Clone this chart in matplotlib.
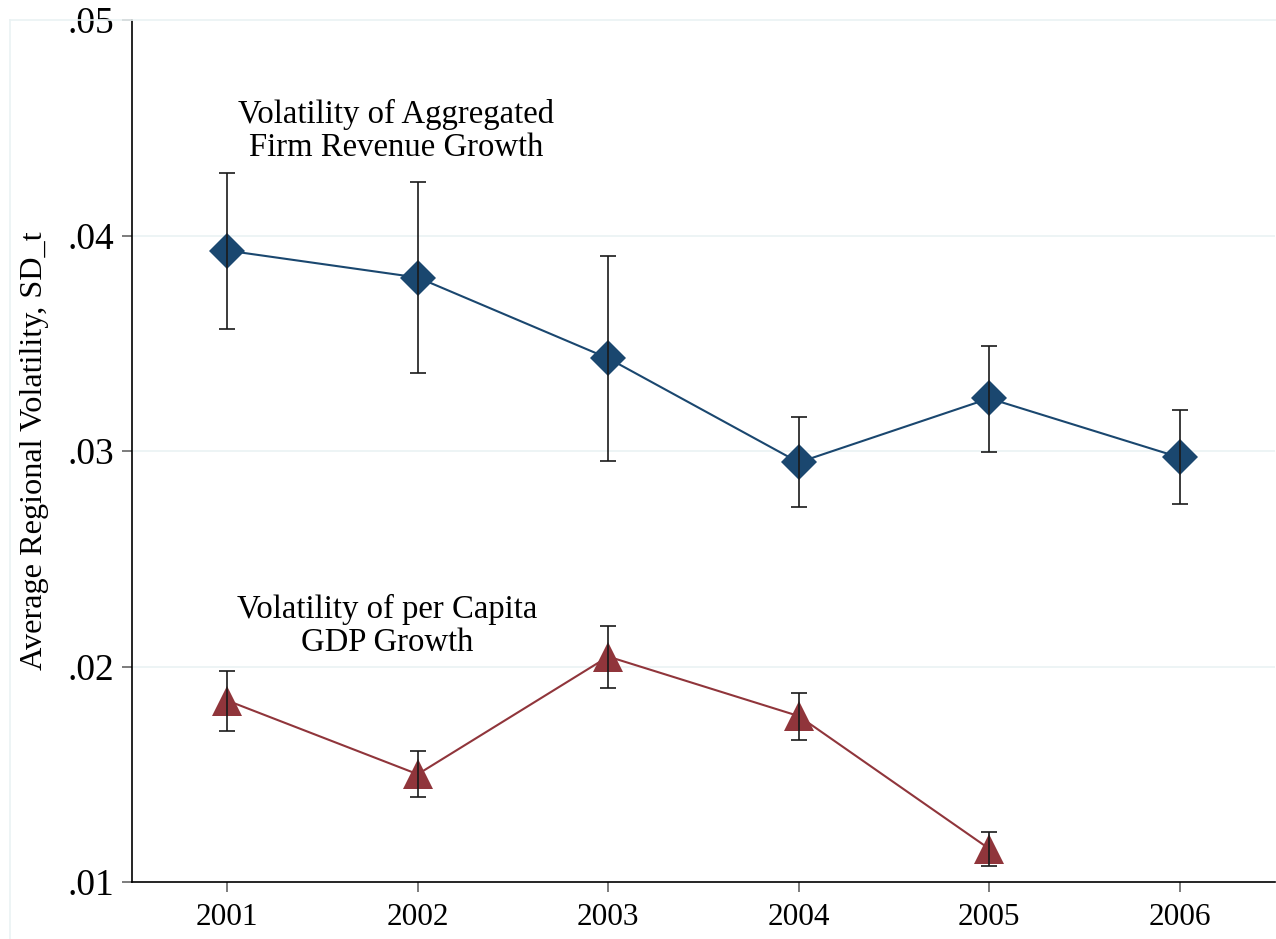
import matplotlib
matplotlib.use("Agg")
import matplotlib.pyplot as plt
from matplotlib.lines import Line2D

plt.rcParams['font.family'] = ['Liberation Serif', 'DejaVu Serif']

years = [2001, 2002, 2003, 2004, 2005, 2006]

firm_vol = [0.03930, 0.03805, 0.03430, 0.02947, 0.03244, 0.02970]
firm_hi  = [0.04291, 0.04246, 0.03904, 0.03156, 0.03486, 0.03189]
firm_lo  = [0.03568, 0.03364, 0.02952, 0.02738, 0.02994, 0.02752]

gdp_years = [2001, 2002, 2003, 2004, 2005]
gdp_vol = [0.01842, 0.01500, 0.02046, 0.01770, 0.01154]
gdp_hi  = [0.01981, 0.01606, 0.02190, 0.01879, 0.01233]
gdp_lo  = [0.01703, 0.01393, 0.01902, 0.01661, 0.01072]

NAVY   = '#1a476f'
MAROON = '#90353b'
GRID   = '#eaf2f3'

fig = plt.figure(figsize=(12.76, 9.39), dpi=100)
fig.patch.set_facecolor('white')
ax = fig.add_axes([132 / 1276, 1 - 882 / 939, 1143 / 1276, 862 / 939])

# faint outer plot-region frame
fig.add_artist(Line2D([10 / 1276, 1.0], [1 - 20 / 939, 1 - 20 / 939],
                      color=GRID, lw=1.2, transform=fig.transFigure))
fig.add_artist(Line2D([10 / 1276, 10 / 1276], [0, 1 - 20 / 939],
                      color=GRID, lw=1.2, transform=fig.transFigure))

for yv in [0.02, 0.03, 0.04]:
    ax.axhline(yv, color=GRID, lw=1.2, zorder=0)

# series lines + markers
ax.plot(years, firm_vol, color=NAVY, lw=1.5, marker='D', ms=18.5,
        markeredgewidth=0, zorder=3)
ax.plot(gdp_years, gdp_vol, color=MAROON, lw=1.5, marker='^', ms=21.5,
        markeredgewidth=0, zorder=3)

# confidence intervals drawn on top of markers
def err(yv, lo, hi):
    return [[v - l for v, l in zip(yv, lo)], [h - v for v, h in zip(yv, hi)]]

ax.errorbar(years, firm_vol, yerr=err(firm_vol, firm_lo, firm_hi), fmt='none',
            ecolor='#1a1a1a', elinewidth=1.2, capsize=5.5, capthick=1.2, zorder=4)
ax.errorbar(gdp_years, gdp_vol, yerr=err(gdp_vol, gdp_lo, gdp_hi), fmt='none',
            ecolor='#1a1a1a', elinewidth=1.2, capsize=5.5, capthick=1.2, zorder=4)

ax.text(2001.886, 0.04485, 'Volatility of Aggregated\nFirm Revenue Growth',
        ha='center', va='center', multialignment='center',
        fontsize=23.6, linespacing=1.1)
ax.text(2001.84, 0.0219, 'Volatility of per Capita\nGDP Growth',
        ha='center', va='center', multialignment='center',
        fontsize=23.6, linespacing=1.1)

ax.set_xlim(2000.5, 2006.5)
ax.set_ylim(0.01, 0.05)
ax.set_xticks(years)
ax.set_xticklabels([str(y) for y in years])
ax.set_yticks([0.01, 0.02, 0.03, 0.04, 0.05])
ax.set_yticklabels(['.01', '.02', '.03', '.04', '.05'])

ax.spines[['top', 'right']].set_visible(False)
ax.spines[['left', 'bottom']].set_linewidth(1.2)
ax.tick_params(axis='x', length=7, width=1.2, color='#666666',
               labelsize=22.5, pad=8)
ax.tick_params(axis='y', length=7, width=1.2, color='#666666',
               labelsize=27, pad=6)

ax.set_ylabel('Average Regional Volatility, SD_t', fontsize=23.2, labelpad=13)

fig.savefig('out.png', dpi=100, facecolor='white')
